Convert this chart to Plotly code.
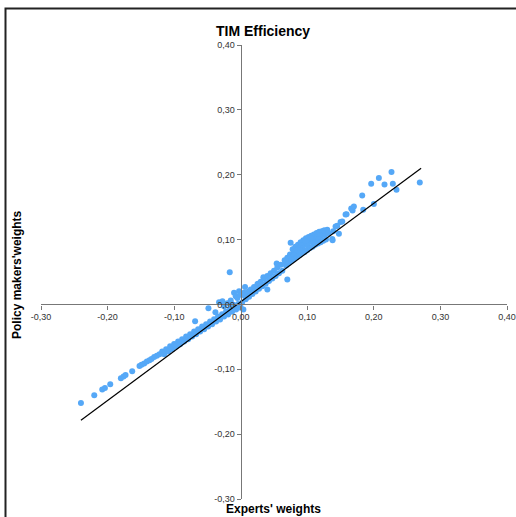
import plotly.graph_objects as go

# ---- data ----
expert_w = [
    # sparse lower-left tail
    -0.240, -0.220, -0.208, -0.204, -0.196, -0.180, -0.176, -0.173, -0.163,
    -0.152, -0.149, -0.145, -0.141, -0.137, -0.134, -0.130, -0.126, -0.122,
    # dense negative band (upper row)
    -0.118, -0.112, -0.106, -0.100, -0.094, -0.088, -0.082, -0.076, -0.070,
    -0.064, -0.058, -0.052, -0.046, -0.040, -0.034, -0.028, -0.022, -0.016,
    -0.010, -0.004,
    # dense negative band (lower row)
    -0.115, -0.109, -0.103, -0.097, -0.091, -0.085, -0.079, -0.073, -0.067,
    -0.061, -0.055, -0.049, -0.043, -0.037, -0.031, -0.025, -0.019, -0.013,
    -0.007, -0.001,
    # scatter around origin
    -0.0485, -0.0685, -0.0325, -0.0275, -0.0165, -0.010, -0.0025, -0.0075,
    -0.020, -0.015, -0.005, 0.000, 0.004, 0.0065, -0.038, -0.025, 0.002,
    0.008, 0.005, -0.012, 0.000, 0.012, 0.040, 0.034, 0.026, 0.070,
    # positive band 0 - 0.065 (upper row)
    0.005, 0.010, 0.015, 0.020, 0.025, 0.030, 0.035, 0.040, 0.045, 0.050,
    0.055, 0.060,
    # positive band 0 - 0.065 (lower row)
    0.0075, 0.0125, 0.0175, 0.0225, 0.0275, 0.0325, 0.0375, 0.0425, 0.0475,
    0.0525, 0.0575, 0.0625,
    # thick band 0.065 - 0.13 (top row)
    0.066, 0.070, 0.074, 0.078, 0.082, 0.086, 0.090, 0.094, 0.098, 0.102,
    0.106, 0.110, 0.114, 0.118, 0.122, 0.126,
    # thick band (middle row)
    0.067, 0.071, 0.075, 0.079, 0.083, 0.087, 0.091, 0.095, 0.099, 0.103,
    0.107, 0.111, 0.115, 0.119, 0.123, 0.127,
    # thick band (extra middle)
    0.085, 0.093, 0.101, 0.109, 0.117, 0.097, 0.105, 0.080, 0.089,
    # thick band (bottom row)
    0.068, 0.072, 0.076, 0.080, 0.084, 0.088, 0.092, 0.096, 0.100, 0.104,
    0.108, 0.112, 0.116, 0.120, 0.124, 0.128,
    # outlier above the band
    0.075, 0.054,
    # upper-right tail
    0.125, 0.130, 0.1315, 0.1375, 0.138, 0.139, 0.1425, 0.145, 0.1475,
    0.150, 0.1525, 0.1575, 0.159, 0.166, 0.168, 0.170, 0.1825, 0.184,
    0.196, 0.200, 0.2075, 0.216, 0.2265, 0.2285, 0.234, 0.269,
]

policy_w = [
    -0.152, -0.140, -0.131, -0.129, -0.123, -0.114, -0.111, -0.109, -0.103,
    -0.095, -0.093, -0.091, -0.088, -0.086, -0.084, -0.081, -0.079, -0.077,
    -0.0725, -0.0690, -0.0645, -0.0612, -0.0570, -0.0535, -0.0493, -0.0458,
    -0.0416, -0.0382, -0.0340, -0.0305, -0.0262, -0.0228, -0.0186, -0.0151,
    -0.0109, -0.0070, -0.0031, 0.0006,
    -0.0768, -0.0726, -0.0691, -0.0649, -0.0614, -0.0572, -0.0538, -0.0495,
    -0.0461, -0.0418, -0.0384, -0.0342, -0.0307, -0.0265, -0.0231, -0.0188,
    -0.0154, -0.0111, -0.0077, -0.0034,
    -0.006, -0.026, 0.0035, 0.005, 0.0497, 0.018, 0.0205, 0.0128,
    0.002, 0.006, 0.010, 0.015, -0.0077, 0.027, -0.012, -0.003, 0.003,
    0.010, 0.018, 0.000, -0.005, 0.020, 0.023, 0.042, 0.032, 0.0385,
    0.014, 0.018, 0.023, 0.027, 0.031, 0.035, 0.040, 0.044, 0.048, 0.052,
    0.057, 0.061,
    0.008, 0.012, 0.016, 0.020, 0.024, 0.028, 0.032, 0.036, 0.040, 0.044,
    0.048, 0.052,
    0.068, 0.072, 0.077, 0.085, 0.089, 0.092, 0.096, 0.099, 0.102, 0.104,
    0.106, 0.108, 0.110, 0.112, 0.113, 0.114,
    0.065, 0.069, 0.073, 0.079, 0.083, 0.086, 0.089, 0.092, 0.095, 0.097,
    0.099, 0.101, 0.103, 0.105, 0.107, 0.108,
    0.081, 0.087, 0.091, 0.096, 0.100, 0.098, 0.102, 0.076, 0.084,
    0.060, 0.064, 0.067, 0.070, 0.073, 0.076, 0.079, 0.081, 0.084, 0.087,
    0.089, 0.092, 0.094, 0.096, 0.098, 0.100,
    0.095, 0.063,
    0.114, 0.115, 0.110, 0.101, 0.099, 0.113, 0.120, 0.1215, 0.109,
    0.127, 0.128, 0.1385, 0.139, 0.148, 0.145, 0.151, 0.168, 0.146,
    0.186, 0.155, 0.195, 0.185, 0.204, 0.186, 0.177, 0.188,
]

# trend line end points
trend_x = [-0.240, 0.271]
trend_y = [-0.1786, 0.210]

tick_vals = [-0.30, -0.20, -0.10, 0.00, 0.10, 0.20, 0.30, 0.40]
tick_text = ["-0,30", "-0,20", "-0,10", "0,00", "0,10", "0,20", "0,30", "0,40"]

fig = go.Figure()
fig.add_trace(go.Scatter(
    x=expert_w, y=policy_w, mode="markers",
    marker=dict(size=6, color="#55A8F7", line=dict(width=0)),
    showlegend=False, hoverinfo="skip",
))
fig.add_trace(go.Scatter(
    x=trend_x, y=trend_y, mode="lines",
    line=dict(color="black", width=1.2),
    showlegend=False, hoverinfo="skip",
))

L, R, T, B = 41, 9, 45, 18
PW, PH = 516 - L - R, 517 - T - B


def px(xp):
    return (xp - L) / PW


def py(yp):
    return (517 - B - yp) / PH


cross = 0.3 / 0.7
axis_common = dict(
    tickvals=tick_vals, ticktext=tick_text,
    showgrid=False, zeroline=False, showline=True, automargin=False,
    linecolor="#777777", linewidth=1.2,
    ticks="outside", ticklen=4, tickcolor="#777777", tickwidth=1.2,
    tickfont=dict(family="Liberation Sans, Arial, sans-serif", size=9, color="#333333"),
    anchor="free", position=cross, fixedrange=True,
)
fig.update_layout(
    width=516, height=517,
    margin=dict(l=L, r=R, t=T, b=B, autoexpand=False),
    paper_bgcolor="white", plot_bgcolor="white",
    xaxis=dict(range=[-0.30, 0.40], **axis_common),
    yaxis=dict(range=[-0.30, 0.40], **axis_common),
    shapes=[
        # chart frame (left and top edges; right and bottom fall outside the picture)
        dict(type="path", xref="paper", yref="paper", layer="above",
             path="M {:.5f},{:.5f} L {:.5f},{:.5f} L {:.5f},{:.5f}".format(
                 px(5.5), py(530), px(5.5), py(8.5), px(530), py(8.5)),
             line=dict(width=2, color="#222222")),
    ],
    annotations=[
        dict(text="<b>TIM Efficiency</b>", xref="paper", yref="paper",
             x=px(262.5), y=py(31), showarrow=False,
             xanchor="center", yanchor="middle",
             font=dict(family="Liberation Sans, Arial, sans-serif", size=14, color="black")),
        dict(text="<b>Policy makers'weights</b>", xref="paper", yref="paper",
             x=px(17), y=py(275), showarrow=False, textangle=-90,
             xanchor="center", yanchor="middle",
             font=dict(family="Liberation Sans, Arial, sans-serif", size=12, color="black")),
        dict(text="<b>Experts' weights</b>", xref="paper", yref="paper",
             x=px(273.5), y=py(509), showarrow=False,
             xanchor="center", yanchor="middle",
             font=dict(family="Liberation Sans, Arial, sans-serif", size=12, color="black")),
    ],
)

fig.write_html(
    "out.html",
    config={"displayModeBar": False, "responsive": False},
    post_script="document.body.style.margin='0';document.body.style.overflow='hidden';",
)
